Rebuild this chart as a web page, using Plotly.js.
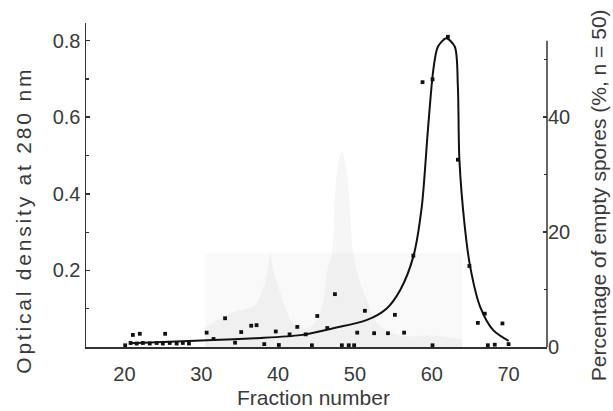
<!DOCTYPE html>
<html>
<head>
<meta charset="utf-8">
<script src="https://cdn.plot.ly/plotly-3.0.1.min.js"></script>
<style>html,body{margin:0;padding:0;background:#fff;}#chart{width:613px;height:411px;}</style>
</head>
<body>
<div id="chart"></div>
<script>
// Optical density curve (left axis)
var odX = [20.7, 25, 31.6, 37, 42.9, 47.2, 51.5, 54.1, 55.9, 57.6, 58.7, 59.5, 60.2, 60.8, 61.9, 63.0, 63.4, 63.6, 64.3, 65.0, 66.3, 68.0, 70.0];
var odY = [0.010, 0.013, 0.018, 0.023, 0.031, 0.049, 0.070, 0.100, 0.149, 0.236, 0.366, 0.567, 0.723, 0.784, 0.806, 0.784, 0.680, 0.488, 0.314, 0.210, 0.105, 0.044, 0.016];

// Percentage of empty spores (right axis)
var spX = [58.8, 60.1, 62.1, 63.4, 57.6, 64.9, 66.9, 66.0, 69.2, 55.2, 56.4, 54.3, 52.5, 50.3, 51.3, 47.4, 46.4, 45.1, 43.6, 42.5, 41.5, 39.7, 37.2, 36.5, 35.2, 33.1, 30.7, 31.6, 25.3, 22.0, 21.1,
           20.1, 34.4, 38.2, 40.1, 44.4, 48.3, 49.2, 49.9, 60.1, 67.3, 68.2, 70.0,
           20.8, 21.6, 22.4, 23.3, 24.2, 25.0, 25.9, 26.8, 27.6, 28.4];
var spY = [46.1, 46.6, 54.0, 32.6, 15.9, 14.1, 5.8, 4.2, 4.1, 5.6, 2.5, 2.4, 2.4, 2.5, 6.3, 9.2, 3.3, 5.4, 2.2, 3.5, 2.2, 2.7, 3.8, 3.7, 2.6, 5.0, 2.5, 1.4, 2.3, 2.3, 2.1,
           0.3, 0.75, 0.5, 0.35, 0.3, 0.3, 0.3, 0.3, 0.3, 0.3, 0.4, 0.5,
           0.7, 0.6, 0.7, 0.6, 0.7, 0.6, 0.7, 0.6, 0.7, 0.6];

// Faint background profile (ghost of a second record)
var bgX = [30.5, 64];
var bgY = [0.245, 0.245];
var ghX = [30.5, 32, 34, 36, 37, 38, 38.6, 39, 39.4, 40, 41, 42, 44, 45.5, 46.4, 47, 47.6, 48.3, 49, 49.8, 50.5, 51.6, 53, 56, 60, 64];
var ghY = [0.05, 0.07, 0.09, 0.10, 0.11, 0.15, 0.20, 0.245, 0.20, 0.16, 0.10, 0.06, 0.05, 0.09, 0.20, 0.245, 0.45, 0.51, 0.45, 0.245, 0.18, 0.12, 0.06, 0.03, 0.03, 0.02];

var xTicks = [20, 30, 40, 50, 60, 70];
var yTicks = [0.2, 0.4, 0.6, 0.8];
var yTickText = ['0.2', '0.4', '0.6', '0.8'];
var y2Ticks = [0, 20, 40];

var FONT = 'Liberation Sans, Arial, sans-serif';
var TXT = '#3a3a3a';
var AX = '#333';

var traces = [
  {x: bgX, y: bgY, type: 'scatter', mode: 'lines', fill: 'tozeroy', fillcolor: 'rgba(0,0,0,0.022)', line: {width: 0}, hoverinfo: 'skip', showlegend: false},
  {x: ghX, y: ghY, type: 'scatter', mode: 'lines', fill: 'tozeroy', fillcolor: 'rgba(0,0,0,0.035)', line: {width: 0, shape: 'spline'}, hoverinfo: 'skip', showlegend: false},
  {x: odX, y: odY, type: 'scatter', mode: 'lines', line: {color: '#111', width: 2, shape: 'spline', smoothing: 0.8}, showlegend: false},
  {x: spX, y: spY, yaxis: 'y2', type: 'scatter', mode: 'markers', marker: {symbol: 'square', size: 3.8, color: '#111'}, showlegend: false}
];

var layout = {
  width: 613, height: 411,
  margin: {l: 86, r: 66, t: 23, b: 64},
  paper_bgcolor: '#fff', plot_bgcolor: 'rgba(0,0,0,0)',
  font: {family: FONT, size: 20, color: TXT},
  xaxis: {range: [15, 75], tickvals: xTicks, ticks: '', showgrid: false, zeroline: false,
          showline: true, linecolor: AX, linewidth: 1.5, ticklabelstandoff: 8,
          tickfont: {size: 20, color: TXT}},
  yaxis: {range: [0, 0.846], tickvals: yTicks, ticktext: yTickText, ticks: 'inside', ticklen: 4, tickwidth: 1.5, tickcolor: AX,
          showgrid: false, zeroline: false, showline: true, linecolor: AX, linewidth: 1.5,
          minor: {dtick: 0.1, tick0: 0, ticks: 'inside', ticklen: 3, tickwidth: 1.2, tickcolor: AX, showgrid: false},
          tickfont: {size: 20, color: TXT}},
  yaxis2: {range: [0, 56.4], overlaying: 'y', side: 'right', tickvals: y2Ticks, ticks: 'inside', ticklen: 4, tickwidth: 1.5, tickcolor: AX,
           showgrid: false, zeroline: false, showline: false,
           minor: {dtick: 10, tick0: 0, ticks: 'inside', ticklen: 3, tickwidth: 1.2, tickcolor: AX, showgrid: false},
           tickfont: {size: 20, color: TXT}},
  shapes: [
    {type: 'line', xref: 'paper', yref: 'paper', x0: 1, x1: 1, y0: 0, y1: 0.945, line: {color: AX, width: 1.5}}
  ],
  annotations: [
    {text: 'Fraction number', xref: 'paper', yref: 'paper', x: 0.493, y: -0.157, xanchor: 'center', yanchor: 'middle', showarrow: false, font: {size: 21, color: TXT}},
    {text: 'Optical density at 280 nm', xref: 'paper', yref: 'paper', x: -0.135, y: 0.392, xanchor: 'center', yanchor: 'middle', textangle: -90, showarrow: false, font: {size: 21, color: TXT}},
    {text: 'Percentage of empty spores (%, n = 50)', xref: 'paper', yref: 'paper', x: 1.111, y: 0.469, xanchor: 'center', yanchor: 'middle', textangle: -90, showarrow: false, font: {size: 21, color: TXT}}
  ]
};

Plotly.newPlot('chart', traces, layout, {displayModeBar: false, staticPlot: true}).then(function (gd) {
  // the left axis title in the original is typeset with wide letter spacing
  var t = gd.querySelector('.annotation[data-index="1"] text');
  if (t) { t.style.letterSpacing = '2.8px'; }
});
</script>
</body>
</html>
